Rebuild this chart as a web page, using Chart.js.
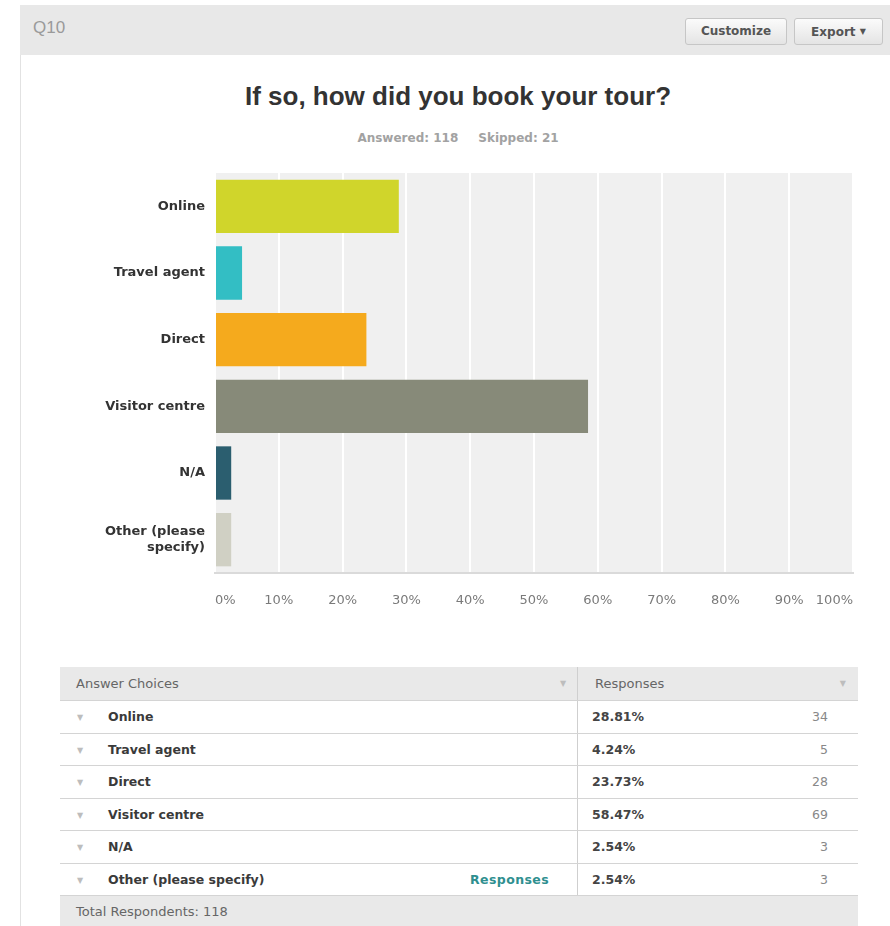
<!DOCTYPE html>
<html lang="en">

<head>
  <meta charset="UTF-8">
  <meta name="viewport" content="width=device-width, initial-scale=1.0">
  <title>Q10 - If so, how did you book your tour?</title>
  <script src="https://cdn.jsdelivr.net/npm/chart.js"></script>
  <style>
    body { margin: 0; background: #fff; font-family: "DejaVu Sans", Verdana, sans-serif; }
    .page { position: relative; width: 890px; height: 926px; overflow: hidden; }
    .panel { position: absolute; left: 20px; top: 5px; right: 0; bottom: 0; border-left: 1px solid #e2e2e2; }
    .bar-top { position: absolute; left: 20px; top: 5px; right: 0; height: 50px; background: #e8e8e8; }
    .qnum { position: absolute; left: 33px; top: 18px; font: 17px/20px "Liberation Sans", Arial, sans-serif; color: #9a9a9a; }
    .btn { position: absolute; top: 18px; height: 25px; line-height: 25px; border: 1px solid #c6c6c6; border-radius: 3px;
      background: linear-gradient(#fbfbfb, #e4e4e4); font-size: 12px; font-weight: bold; color: #555; text-align: center; }
    .btn .caret { font-size: 8px; vertical-align: 2px; }
    .title { position: absolute; left: 158px; width: 600px; top: 81px; text-align: center;
      font: bold 26px/30px "Liberation Sans", Arial, sans-serif; color: #333; }
    .sub { position: absolute; left: 158px; width: 600px; top: 130px; text-align: center;
      font-size: 12px; line-height: 16px; font-weight: bold; color: #a2a2a2; }
    .sub span + span { margin-left: 20px; }
    .chart-box { position: absolute; left: 0; top: 150px; width: 890px; height: 470px; }
    table { position: absolute; left: 60px; top: 667px; width: 798px; border-collapse: collapse; font-size: 12.5px; }
    td, th { padding: 0; border-bottom: 1px solid #d4d4d4; }
    th { background: #e9e9e9; height: 33px; font-weight: normal; font-size: 13px; color: #666; text-align: left; }
    tbody td { height: 31.5px; }
    .c1 { width: 517px; border-right: 1px solid #cfcfcf; position: relative; }
    .c2 { position: relative; }
    .arrow { color: #bdbdbd; font-size: 8px; }
    .h-arrow { position: absolute; top: 12px; }
    .r-arrow { position: absolute; left: 17px; top: 12px; }
    .name { position: absolute; left: 48px; top: 8px; font-weight: bold; color: #3a3a3a; }
    .link { position: absolute; right: 28px; top: 8px; font-weight: bold; color: #2f8f8f; letter-spacing: 0.4px; }
    .pct { position: absolute; left: 14px; top: 8px; font-weight: bold; color: #444; }
    .cnt { position: absolute; right: 30px; top: 8px; color: #888; }
    tfoot td { background: #e9e9e9; height: 31px; border: none; font-size: 13px; color: #666; padding-left: 16px; }
  </style>
</head>

<body>
  <div class="page">
    <div class="panel"></div>
    <div class="bar-top"></div>
    <div class="qnum">Q10</div>
    <div class="btn" style="left:685px; width:100px;">Customize</div>
    <div class="btn" style="left:794px; width:87px;">Export <span class="caret">▼</span></div>

    <div class="title">If so, how did you book your tour?</div>
    <div class="sub"><span>Answered: 118</span><span>Skipped: 21</span></div>

    <div class="chart-box">
      <canvas id="bookingChart" width="890" height="470"></canvas>
    </div>

    <table id="responsesTable">
      <thead>
        <tr>
          <th class="c1"><span style="padding-left:16px">Answer Choices</span><span class="arrow h-arrow" style="left:500px">▼</span></th>
          <th class="c2"><span style="padding-left:17px">Responses</span><span class="arrow h-arrow" style="right:12px">▼</span></th>
        </tr>
      </thead>
      <tbody></tbody>
      <tfoot>
        <tr><td colspan="2">Total Respondents: 118</td></tr>
      </tfoot>
    </table>
  </div>

  <script>
    // answer choices, share of respondents (%) and raw counts
    const choices = ['Online', 'Travel agent', 'Direct', 'Visitor centre', 'N/A', 'Other (please specify)'];
    const axisLabels = ['Online', 'Travel agent', 'Direct', 'Visitor centre', 'N/A', ['Other (please', 'specify)']];
    const percents = [28.81, 4.24, 23.73, 58.47, 2.54, 2.54];
    const counts = [34, 5, 28, 69, 3, 3];
    const barColors = ['#d0d52b', '#33bec4', '#f5aa1d', '#878a79', '#2b5e6f', '#d0d0c4'];

    // grey plot background behind the bars
    const plotBackground = {
      id: 'plotBackground',
      beforeDraw(chart) {
        const { ctx, chartArea } = chart;
        ctx.save();
        ctx.fillStyle = '#f0f0f0';
        ctx.fillRect(chartArea.left, chartArea.top, chartArea.right - chartArea.left, chartArea.bottom - chartArea.top);
        ctx.restore();
      }
    };

    const chartOptions = {
      indexAxis: 'y',
      responsive: false,
      animation: false,
      layout: {
        padding: { top: 23, right: 37, bottom: 0, left: 0 }
      },
      scales: {
        x: {
          min: 0,
          max: 100,
          afterFit: function (scale) { scale.height = 47; },
          grid: { color: '#ffffff', lineWidth: 2, drawTicks: false },
          border: { display: true, color: '#dadada', width: 2 },
          ticks: {
            stepSize: 10,
            align: 'inner',
            padding: 20,
            color: '#7a7a7a',
            font: { family: 'DejaVu Sans', size: 13 },
            callback: function (value) {
              return value + '%';
            }
          }
        },
        y: {
          // fixed label column; labels sit inside the bands so no overhang
          afterFit: function (scale) {
            scale.width = 215;
            scale.paddingTop = 0;
            scale.paddingBottom = 0;
          },
          grid: { display: false, drawTicks: false },
          border: { display: false },
          ticks: {
            padding: 10,
            color: '#333333',
            font: { family: 'DejaVu Sans', size: 13, weight: 'bold', lineHeight: 1.3 }
          }
        }
      },
      plugins: {
        legend: { display: false },
        tooltip: { enabled: false }
      }
    };

    var ctx = document.getElementById('bookingChart').getContext('2d');
    var bookingChart = new Chart(ctx, {
      type: 'bar',
      data: {
        labels: axisLabels,
        datasets: [{
          label: 'Responses',
          data: percents,
          backgroundColor: barColors,
          borderWidth: 0,
          barPercentage: 0.8,
          categoryPercentage: 1.0
        }]
      },
      options: chartOptions,
      plugins: [plotBackground]
    });

    // responses table rows
    const tbody = document.querySelector('#responsesTable tbody');
    choices.forEach(function (name, i) {
      const tr = document.createElement('tr');
      const link = name.indexOf('Other') === 0 ? '<span class="link">Responses</span>' : '';
      tr.innerHTML =
        '<td class="c1"><span class="arrow r-arrow">▼</span><span class="name">' + name + '</span>' + link + '</td>' +
        '<td class="c2"><span class="pct">' + percents[i].toFixed(2) + '%</span><span class="cnt">' + counts[i] + '</span></td>';
      tbody.appendChild(tr);
    });
  </script>

</body>

</html>
